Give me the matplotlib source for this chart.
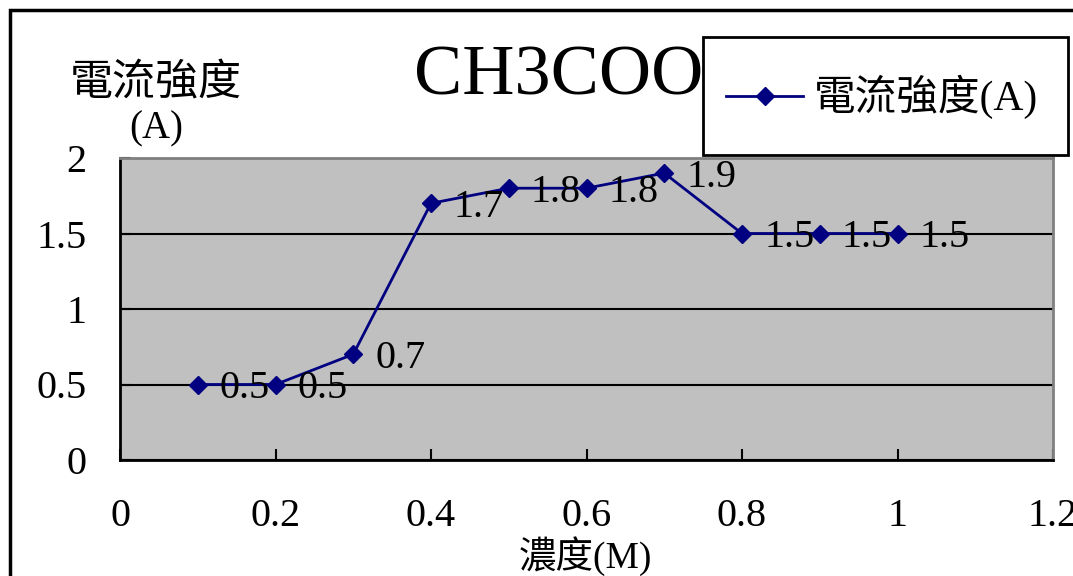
import matplotlib
matplotlib.use("Agg")
import matplotlib.pyplot as plt
from matplotlib.patches import Rectangle

plt.rcParams['font.family'] = ['Liberation Serif', 'Noto Sans CJK TC', 'DejaVu Sans']

# Data
conc = [0.1, 0.2, 0.3, 0.4, 0.5, 0.6, 0.7, 0.8, 0.9, 1.0]
current = [0.5, 0.5, 0.7, 1.7, 1.8, 1.8, 1.9, 1.5, 1.5, 1.5]
x_ticks = [0, 0.2, 0.4, 0.6, 0.8, 1.0, 1.2]
x_tick_labels = ['0', '0.2', '0.4', '0.6', '0.8', '1', '1.2']
y_ticks = [0, 0.5, 1.0, 1.5, 2.0]
y_tick_labels = ['0', '0.5', '1', '1.5', '2']
title = 'CH3COOH'
series_name = '電流強度(A)'
y_label_1 = '電流強度'
y_label_2 = '(A)'
x_label = '濃度(M)'

W, H = 1073, 576
fig = plt.figure(figsize=(W / 100, H / 100), dpi=100)
fig.patch.set_facecolor('white')

def fx(px):
    return px / W

def fy(py):
    return 1 - py / H

ax = fig.add_axes([fx(120), fy(460), fx(1053) - fx(120), fy(158) - fy(460)])
ax.set_facecolor('#C0C0C0')
ax.set_xlim(0, 1.2)
ax.set_ylim(0, 2)

navy = '#000080'
ax.plot(conc, current, color=navy, lw=2, marker='D', markersize=9,
        markerfacecolor=navy, markeredgecolor=navy, zorder=5, clip_on=False,
        label=series_name)

for xv, yv in zip(conc, current):
    ax.annotate(f'{yv:g}', (xv, yv), xytext=(16, -3), textcoords='offset points',
                ha='left', va='center', fontsize=29, color='black', zorder=6)

ax.set_xticks(x_ticks)
ax.set_xticklabels(x_tick_labels)
ax.set_yticks(y_ticks)
ax.set_yticklabels(y_tick_labels)
ax.tick_params(axis='x', direction='in', length=8, width=1.5, pad=27, labelsize=29)
ax.tick_params(axis='y', direction='in', length=8, width=1.5, pad=24, labelsize=29)

ax.yaxis.grid(True, color='black', lw=1.5)
ax.set_axisbelow(True)

for s in ['left', 'bottom']:
    ax.spines[s].set_color('black')
    ax.spines[s].set_linewidth(2)
for s in ['top', 'right']:
    ax.spines[s].set_color('#808080')
    ax.spines[s].set_linewidth(2)

# Title (partially hidden by legend)
ax.text(fx(414), fy(77), title, transform=fig.transFigure, fontsize=52,
        ha='left', va='center', zorder=1, clip_on=False)

# Axis labels
ax.text(fx(156), fy(84), y_label_1, transform=fig.transFigure, fontsize=31,
        ha='center', va='center', clip_on=False)
ax.text(fx(156), fy(129), y_label_2, transform=fig.transFigure, fontsize=28,
        ha='center', va='center', clip_on=False)
ax.text(fx(585), fy(556), x_label, transform=fig.transFigure, fontsize=27,
        ha='center', va='center', clip_on=False)

# Legend box
box = Rectangle((fx(703), fy(155)), fx(1068) - fx(703), fy(37) - fy(155),
                transform=fig.transFigure, facecolor='white', edgecolor='black',
                lw=2, zorder=9, clip_on=False)
ax.add_patch(box)
leg = ax.legend(loc='center left', bbox_to_anchor=(fx(726), fy(97)),
                bbox_transform=fig.transFigure, frameon=False, fontsize=30,
                handlelength=1.85, handletextpad=0.25, borderaxespad=0, borderpad=0)
leg.set_zorder(10)

# Outer frame
frame = Rectangle((fx(10), -0.5), 2, fy(10) + 0.5, transform=fig.transFigure,
                  facecolor='none', edgecolor='black', lw=2.5, zorder=20, clip_on=False)
fig.add_artist(frame)

fig.savefig('out.png', dpi=100)
